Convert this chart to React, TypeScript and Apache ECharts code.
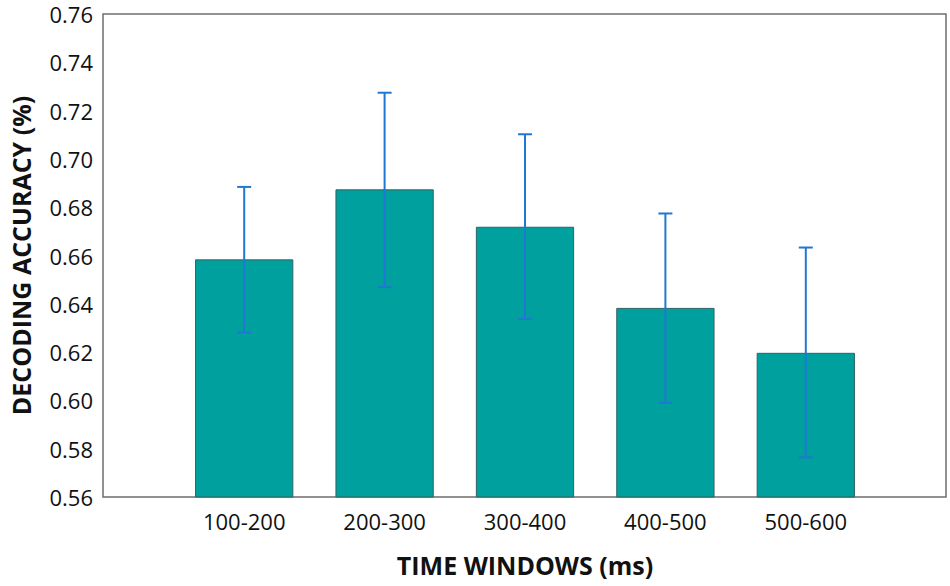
import React, { useEffect, useRef } from "react";
import * as echarts from "echarts";

const categories = ["100-200", "200-300", "300-400", "400-500", "500-600"];
const accuracy = [0.6584, 0.6874, 0.6719, 0.6383, 0.6197];
const errLow = [0.6281, 0.6469, 0.6338, 0.599, 0.5764];
const errHigh = [0.6884, 0.7274, 0.7102, 0.6774, 0.6633];
const yMin = 0.56;
const yMax = 0.76;
const yStep = 0.02;

export default function App() {
  const ref = useRef<HTMLDivElement>(null);
  useEffect(() => {
    document.body.style.margin = "0";
    const chart = echarts.init(ref.current!, undefined, { renderer: "svg" });
    const errData = categories.map((_, i) => [i, errLow[i], errHigh[i]]);
    chart.setOption({
      animation: false,
      backgroundColor: "#ffffff",
      textStyle: { fontFamily: "Open Sans" },
      grid: [
        { left: 173, width: 703, top: 14, bottom: 89 },
        {
          left: 103,
          right: 4,
          top: 14,
          bottom: 89,
          show: true,
          borderColor: "#6e6e6e",
          borderWidth: 1.5,
          backgroundColor: "transparent",
        },
      ],
      xAxis: [
        {
          type: "category",
          gridIndex: 0,
          data: categories,
          axisLine: { show: false },
          axisTick: { show: false },
          axisLabel: { fontSize: 22, color: "#111", margin: 13, fontFamily: "Open Sans" },
          name: "TIME WINDOWS (ms)",
          nameLocation: "middle",
          nameGap: 55,
          nameTextStyle: { fontSize: 25, fontWeight: "bold", color: "#111", fontFamily: "Open Sans" },
        },
        { type: "value", gridIndex: 1, show: false, min: 0, max: 1 },
      ],
      yAxis: [
        {
          type: "value",
          gridIndex: 0,
          min: yMin,
          max: yMax,
          interval: yStep,
          offset: 70,
          axisLine: { show: false },
          axisTick: { show: false },
          splitLine: { show: false },
          axisLabel: {
            fontSize: 22,
            color: "#111",
            margin: 11,
            fontFamily: "Open Sans",
            formatter: (v: number) => v.toFixed(2),
          },
          name: "DECODING ACCURACY (%)",
          nameLocation: "middle",
          nameGap: 71,
          nameTextStyle: { fontSize: 25, fontWeight: "bold", color: "#111", fontFamily: "Open Sans" },
        },
        { type: "value", gridIndex: 1, show: false, min: 0, max: 1 },
      ],
      series: [
        {
          type: "bar",
          xAxisIndex: 0,
          yAxisIndex: 0,
          data: accuracy,
          barWidth: "70%",
          itemStyle: { color: "#00A09E", borderColor: "#2f6361", borderWidth: 1 },
        },
        {
          type: "custom",
          xAxisIndex: 0,
          yAxisIndex: 0,
          data: errData,
          z: 5,
          renderItem: (params: any, api: any) => {
            const x = api.value(0);
            const lo = api.coord([x, api.value(1)]);
            const hi = api.coord([x, api.value(2)]);
            const cap = 7;
            const style = { stroke: "#1f78d1", lineWidth: 2 };
            return {
              type: "group",
              children: [
                { type: "line", shape: { x1: hi[0], y1: hi[1], x2: lo[0], y2: lo[1] }, style },
                { type: "line", shape: { x1: hi[0] - cap, y1: hi[1], x2: hi[0] + cap, y2: hi[1] }, style },
                { type: "line", shape: { x1: lo[0] - cap, y1: lo[1], x2: lo[0] + cap, y2: lo[1] }, style },
              ],
            };
          },
        },
      ],
    });
    return () => chart.dispose();
  }, []);
  return <div ref={ref} style={{ position: "fixed", left: 0, top: 0, width: 950, height: 586 }} />;
}
